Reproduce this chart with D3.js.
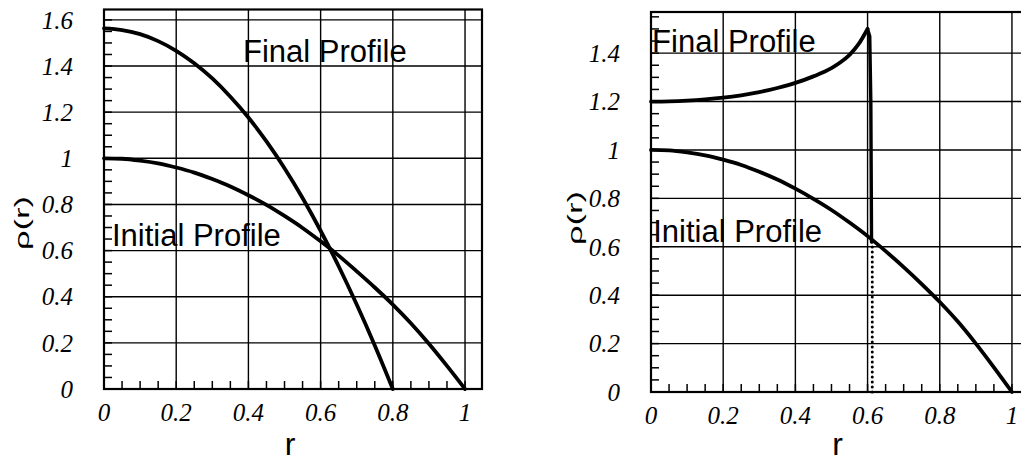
<!DOCTYPE html>
<html>
<head>
<meta charset="utf-8">
<script src="https://cdn.jsdelivr.net/npm/d3@7"></script>
<style>
  html, body { margin: 0; padding: 0; background: #fff; }
  svg { display: block; }
  .tick-lab { font-family: "Liberation Serif", "DejaVu Serif", serif; font-style: italic; font-size: 25px; fill: #000; }
  .ann { font-family: "Liberation Sans", Arial, sans-serif; font-size: 31px; fill: #000; }
  .axlab { font-family: "Liberation Sans", Arial, sans-serif; fill: #000; }
</style>
</head>
<body>
<svg id="chart" width="1021" height="463"></svg>
<script>
// ---------- data ----------
const xTicks = [0, 0.2, 0.4, 0.6, 0.8, 1];
const xTickLabels = ["0", "0.2", "0.4", "0.6", "0.8", "1"];
const yTicksLeft = [0, 0.2, 0.4, 0.6, 0.8, 1, 1.2, 1.4, 1.6];
const yTickLabelsLeft = ["0", "0.2", "0.4", "0.6", "0.8", "1", "1.2", "1.4", "1.6"];
const yTicksRight = [0, 0.2, 0.4, 0.6, 0.8, 1, 1.2, 1.4];
const yTickLabelsRight = ["0", "0.2", "0.4", "0.6", "0.8", "1", "1.2", "1.4"];

// initial profile (both panels)
const rInitial = [0, 0.05, 0.1, 0.15, 0.2, 0.25, 0.3, 0.35, 0.4, 0.45, 0.5, 0.55, 0.6, 0.65, 0.7, 0.75, 0.8, 0.85, 0.9, 0.95, 1.0];
const rhoInitialLeft = [1.0, 0.998, 0.99, 0.978, 0.96, 0.938, 0.91, 0.878, 0.84, 0.798, 0.75, 0.698, 0.64, 0.578, 0.51, 0.44, 0.366, 0.285, 0.196, 0.1, 0];
const rhoInitialRight = [1.0, 0.998, 0.99, 0.978, 0.96, 0.938, 0.91, 0.878, 0.84, 0.798, 0.752, 0.7, 0.644, 0.582, 0.516, 0.446, 0.372, 0.291, 0.2, 0.102, 0];

// final profile, left panel
const rFinalLeft = [0, 0.05, 0.1, 0.15, 0.2, 0.25, 0.3, 0.35, 0.4, 0.45, 0.5, 0.55, 0.6, 0.65, 0.7, 0.75, 0.8];
const rhoFinalLeft = [1.563, 1.556, 1.538, 1.508, 1.466, 1.412, 1.346, 1.267, 1.177, 1.073, 0.957, 0.828, 0.686, 0.532, 0.366, 0.189, 0];

// final profile, right panel (smooth part, then the steep drop, then the dotted tail)
const rFinalRight = [0, 0.05, 0.1, 0.15, 0.2, 0.25, 0.3, 0.35, 0.4, 0.45, 0.5, 0.525, 0.55, 0.575, 0.6];
const rhoFinalRight = [1.2, 1.201, 1.204, 1.209, 1.216, 1.226, 1.239, 1.256, 1.277, 1.304, 1.338, 1.362, 1.393, 1.437, 1.5];
const rDrop = [0.6, 0.606, 0.609, 0.611];
const rhoDrop = [1.5, 1.47, 1.2, 0.62];
const rTail = [0.613, 0.613];
const rhoTail = [0.62, 0];

// ---------- drawing ----------
const svg = d3.select("#chart");

function panel(cfg) {
  const g = svg.append("g");
  const x = d3.scaleLinear().domain(cfg.xDomain).range(cfg.xRange);
  const y = d3.scaleLinear().domain(cfg.yDomain).range(cfg.yRange);
  const [x0, x1] = cfg.xRange;
  const [y0, y1] = cfg.yRange;

  // grid lines
  g.selectAll(".hg").data(cfg.yTicks.filter(d => d > 0)).enter().append("line")
    .attr("x1", x0).attr("x2", x1)
    .attr("y1", d => y(d)).attr("y2", d => y(d))
    .attr("stroke", "#000").attr("stroke-width", 1.4);
  g.selectAll(".vg").data(xTicks.filter(d => d > 0)).enter().append("line")
    .attr("y1", y0).attr("y2", y1)
    .attr("x1", d => x(d)).attr("x2", d => x(d))
    .attr("stroke", "#000").attr("stroke-width", 1.4);

  // minor ticks (inward) every 0.05
  const minorY = d3.range(0, Math.floor(cfg.yDomain[1] / 0.05) + 1).map(i => i * 0.05);
  const minorX = d3.range(0, Math.floor(cfg.xDomain[1] / 0.05) + 1).map(i => i * 0.05);
  g.selectAll(".my").data(minorY).enter().append("line")
    .attr("x1", x0).attr("x2", x0 + 8)
    .attr("y1", d => y(d)).attr("y2", d => y(d))
    .attr("stroke", "#000").attr("stroke-width", 1.5);
  g.selectAll(".mx").data(minorX).enter().append("line")
    .attr("y1", y0).attr("y2", y0 - 8)
    .attr("x1", d => x(d)).attr("x2", d => x(d))
    .attr("stroke", "#000").attr("stroke-width", 1.5);

  // frame
  g.append("rect")
    .attr("x", x0).attr("y", y1)
    .attr("width", x1 - x0).attr("height", y0 - y1)
    .attr("fill", "none").attr("stroke", "#000").attr("stroke-width", 2.2);

  // tick labels
  g.selectAll(".yl").data(cfg.yTicks).enter().append("text")
    .attr("class", "tick-lab")
    .attr("x", x0 - 31).attr("y", d => y(d))
    .attr("dy", "0.35em").attr("text-anchor", "end")
    .text((d, i) => cfg.yLabels[i]);
  g.selectAll(".xl").data(xTicks).enter().append("text")
    .attr("class", "tick-lab")
    .attr("x", d => x(d)).attr("y", y0 + 32)
    .attr("text-anchor", "middle")
    .text((d, i) => xTickLabels[i]);

  // axis titles
  g.append("text").attr("class", "axlab")
    .attr("x", (x0 + x1) / 2 - 3).attr("y", 455)
    .attr("text-anchor", "middle").attr("font-size", 32)
    .text("r");
  g.append("text").attr("class", "axlab")
    .attr("transform", `translate(${cfg.yTitleX},${cfg.yTitleY}) rotate(-90)`)
    .attr("text-anchor", "middle").attr("font-size", 21)
    .attr("textLength", 54).attr("lengthAdjust", "spacingAndGlyphs")
    .text("ρ(r)");

  return { g, x, y };
}

function drawLine(p, rs, vs, curve, opts = {}) {
  const line = d3.line().x(d => p.x(d[0])).y(d => p.y(d[1])).curve(curve);
  const path = p.g.append("path")
    .datum(rs.map((r, i) => [r, vs[i]]))
    .attr("d", line)
    .attr("fill", "none").attr("stroke", "#000")
    .attr("stroke-width", opts.width || 3.8)
    .attr("stroke-linejoin", "round").attr("stroke-linecap", "round");
  if (opts.dash) path.attr("stroke-dasharray", opts.dash);
  return path;
}

function label(p, r, v, text) {
  p.g.append("text").attr("class", "ann")
    .attr("x", p.x(r)).attr("y", p.y(v)).text(text);
}

// Left panel
const L = panel({
  xDomain: [0, 1.047], xRange: [104, 482],
  yDomain: [0, 1.645], yRange: [389, 9.5],
  yTicks: yTicksLeft, yLabels: yTickLabelsLeft,
  yTitleX: 29, yTitleY: 223
});
drawLine(L, rInitial, rhoInitialLeft, d3.curveMonotoneX);
drawLine(L, rFinalLeft, rhoFinalLeft, d3.curveMonotoneX);
label(L, 0.385, 1.419, "Final Profile");
label(L, 0.022, 0.62, "Initial Profile");

// Right panel
const R = panel({
  xDomain: [0, 1.05], xRange: [651, 1030],
  yDomain: [0, 1.57], yRange: [392, 12],
  yTicks: yTicksRight, yLabels: yTickLabelsRight,
  yTitleX: 582, yTitleY: 218
});
drawLine(R, rInitial, rhoInitialRight, d3.curveMonotoneX);
drawLine(R, rFinalRight, rhoFinalRight, d3.curveMonotoneX);
drawLine(R, rDrop, rhoDrop, d3.curveLinear, { width: 3.4 });
drawLine(R, rTail, rhoTail, d3.curveLinear, { width: 3, dash: "0 5" });
label(R, 0.003, 1.405, "Final Profile");
label(R, 0.006, 0.62, "Initial Profile");
</script>
</body>
</html>
